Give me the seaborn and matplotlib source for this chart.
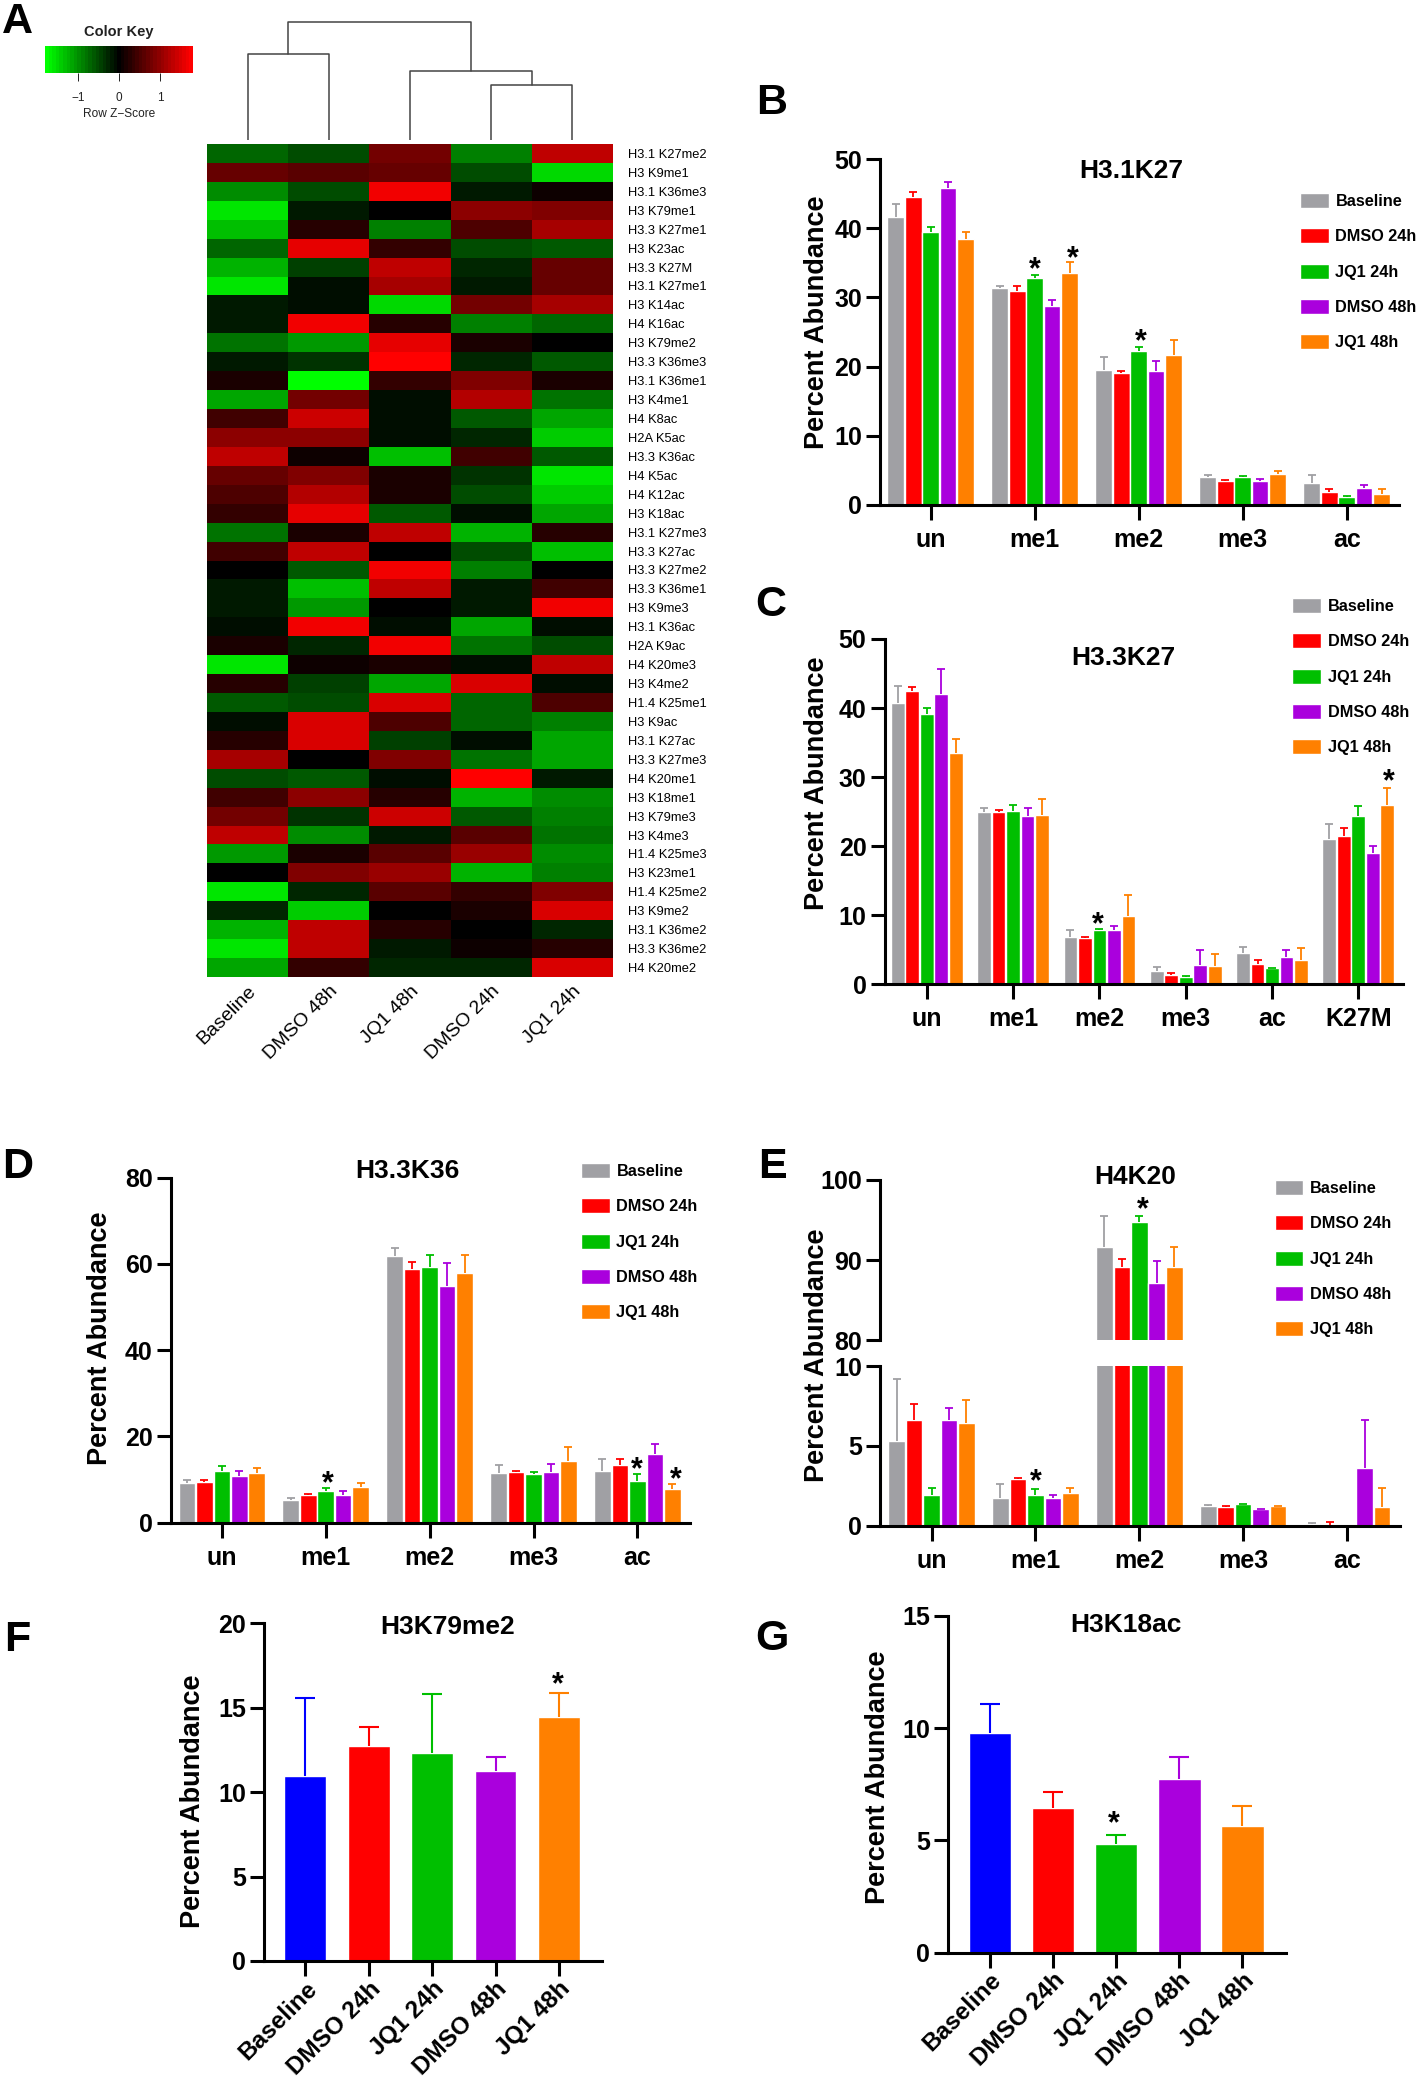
import numpy as np
import pandas as pd
import seaborn as sns
import matplotlib.pyplot as plt
from matplotlib.colors import LinearSegmentedColormap

W, H = 1418, 2076

groups = ["Baseline", "DMSO 24h", "JQ1 24h", "DMSO 48h", "JQ1 48h"]
group_colors = ["#A0A0A4", "#FF0000", "#00BF00", "#AA00DD", "#FF8000"]
single_colors = ["#0000FF", "#FF0000", "#00BF00", "#AA00DD", "#FF8000"]

# panel A
heat_cols = ["Baseline", "DMSO 48h", "JQ1 48h", "DMSO 24h", "JQ1 24h"]
heat_rows = ["H3.1 K27me2", "H3 K9me1", "H3.1 K36me3", "H3 K79me1", "H3.3 K27me1", "H3 K23ac",
             "H3.3 K27M", "H3.1 K27me1", "H3 K14ac", "H4 K16ac", "H3 K79me2", "H3.3 K36me3",
             "H3.1 K36me1", "H3 K4me1", "H4 K8ac", "H2A K5ac", "H3.3 K36ac", "H4 K5ac",
             "H4 K12ac", "H3 K18ac", "H3.1 K27me3", "H3.3 K27ac", "H3.3 K27me2", "H3.3 K36me1",
             "H3 K9me3", "H3.1 K36ac", "H2A K9ac", "H4 K20me3", "H3 K4me2", "H1.4 K25me1",
             "H3 K9ac", "H3.1 K27ac", "H3.3 K27me3", "H4 K20me1", "H3 K18me1", "H3 K79me3",
             "H3 K4me3", "H1.4 K25me3", "H3 K23me1", "H1.4 K25me2", "H3 K9me2", "H3.1 K36me2",
             "H3.3 K36me2", "H4 K20me2"]
heat_values = [
    [-0.68, -0.5, 0.8, -0.9, 1.35], [0.7, 0.65, 0.7, -0.55, -1.5], [-1.0, -0.55, 1.65, -0.15, 0.12],
    [-1.6, -0.2, 0.0, 0.95, 0.9], [-1.3, 0.3, -0.85, 0.55, 1.1], [-0.7, 1.6, 0.35, -0.55, -0.65],
    [-1.25, -0.45, 1.3, -0.25, 0.7], [-1.6, -0.07, 1.15, -0.2, 0.7], [-0.2, -0.12, -1.45, 0.75, 1.15],
    [-0.15, 1.65, 0.22, -0.85, -0.7], [-0.8, -1.05, 1.55, 0.2, 0.0], [-0.2, -0.35, 1.8, -0.22, -0.6],
    [0.15, -1.8, 0.35, 0.85, 0.18], [-1.15, 0.8, -0.07, 1.2, -0.8], [0.4, 1.4, -0.05, -0.6, -1.15],
    [0.95, 0.95, -0.1, -0.3, -1.4], [1.35, 0.1, -1.3, 0.45, -0.6], [0.7, 0.9, 0.15, -0.35, -1.6],
    [0.5, 1.2, 0.2, -0.5, -1.4], [0.35, 1.55, -0.6, -0.1, -1.1], [-0.8, 0.2, 1.35, -1.25, 0.25],
    [0.4, 1.3, 0.03, -0.55, -1.3], [-0.03, -0.65, 1.7, -0.85, 0.0], [-0.15, -1.3, 1.35, -0.2, 0.4],
    [-0.15, -1.05, 0.0, -0.2, 1.7], [-0.08, 1.65, -0.1, -1.15, -0.12], [0.2, -0.22, 1.65, -0.8, -0.55],
    [-1.6, 0.12, 0.15, -0.1, 1.3], [0.25, -0.45, -1.15, 1.5, -0.1], [-0.65, -0.5, 1.45, -0.7, 0.55],
    [-0.12, 1.45, 0.55, -0.7, -0.9], [0.25, 1.5, -0.45, -0.08, -1.15], [1.1, -0.04, 0.85, -0.75, -1.1],
    [-0.55, -0.6, -0.07, 1.8, -0.17], [0.45, 1.0, 0.3, -1.2, -0.95], [0.75, -0.35, 1.4, -0.65, -0.85],
    [1.35, -0.95, -0.2, 0.65, -0.75], [-1.05, 0.2, 0.65, 1.05, -0.95], [0.0, 0.9, 1.05, -1.2, -0.9],
    [-1.6, -0.3, 0.65, 0.35, 0.85], [-0.25, -1.4, 0.03, 0.2, 1.45], [-1.25, 1.35, 0.3, -0.04, -0.3],
    [-1.6, 1.35, -0.15, 0.1, 0.25], [-1.1, 0.35, -0.25, -0.22, 1.5]]
# dendrogram merges: left node, right node, height (leaves are 0-4, new nodes count up from 5)
dendro_merges = [(0, 1, 86.8), (3, 4, 55.4), (2, 6, 69.0), (5, 7, 118.6)]

# panel B, one row per mark, whisker tops next to means
b_marks = ["un", "me1", "me2", "me3", "ac"]
b_means = [[41.7, 44.5, 39.5, 45.9, 38.5], [31.4, 31.0, 32.8, 28.7, 33.5], [19.5, 19.0, 22.3, 19.3, 21.7],
           [4.0, 3.4, 4.0, 3.5, 4.4], [3.2, 1.9, 1.06, 2.4, 1.6]]
b_tops = [[43.6, 45.3, 40.2, 46.7, 39.5], [31.6, 31.7, 33.2, 29.7, 35.1], [21.4, 19.3, 22.9, 20.8, 23.9],
          [4.3, 3.6, 4.2, 3.7, 4.9], [4.3, 2.3, 1.2, 2.85, 2.3]]
b_star_x = [1.0, 1.365, 2.02]
b_star_y = [34.8, 36.4, 24.4]

# panel C
c_marks = ["un", "me1", "me2", "me3", "ac", "K27M"]
c_means = [[40.8, 42.4, 39.1, 42.1, 33.5], [24.9, 25.0, 25.1, 24.3, 24.5], [6.9, 6.7, 7.9, 7.8, 9.85],
           [1.9, 1.3, 1.1, 2.8, 2.6], [4.5, 2.9, 2.4, 3.9, 3.5], [21.0, 21.5, 24.4, 19.0, 26.0]]
c_tops = [[43.2, 43.0, 40.0, 45.7, 35.5], [25.6, 25.3, 26.0, 25.5, 26.9], [7.8, 6.8, 8.0, 8.5, 13.0],
          [2.56, 1.6, 1.25, 5.0, 4.4], [5.4, 3.5, 2.4, 4.9, 5.3], [23.2, 22.7, 25.8, 20.0, 28.4]]
c_star_x = [1.98, 5.35]
c_star_y = [9.4, 30.2]

# panel D
d_marks = ["un", "me1", "me2", "me3", "ac"]
d_means = [[9.1, 9.5, 12.1, 10.8, 11.5], [5.3, 6.4, 7.4, 6.5, 8.2], [61.9, 58.9, 59.4, 54.8, 57.8],
           [11.5, 11.7, 11.2, 11.7, 14.4], [12.1, 13.4, 9.7, 15.9, 7.9]]
d_tops = [[9.8, 9.9, 13.1, 12.1, 12.8], [5.8, 6.7, 8.0, 7.3, 9.2], [63.8, 60.4, 62.1, 60.3, 62.0],
          [13.4, 12.0, 11.7, 13.7, 17.5], [14.8, 14.7, 11.4, 18.2, 8.9]]
d_star_x = [1.018, 3.99, 4.37]
d_star_y = [10.3, 13.5, 11.3]

# panel E, broken axis
e_marks = ["un", "me1", "me2", "me3", "ac"]
e_means = [[5.28, 6.6, 1.9, 6.6, 6.4], [1.75, 2.95, 1.94, 1.75, 2.04], [91.7, 89.2, 94.8, 87.1, 89.2],
           [1.23, 1.19, 1.36, 1.04, 1.23], [0.1, 0.06, 0.0, 3.6, 1.18]]
e_tops = [[9.16, 7.6, 2.38, 7.4, 7.9], [2.63, 2.99, 2.32, 1.94, 2.36], [95.5, 90.2, 95.55, 89.85, 91.6],
          [1.32, 1.25, 1.38, 1.06, 1.25], [0.19, 0.25, 0.0, 6.62, 2.36]]

# panels F and G
f_means = [10.98, 12.76, 12.3, 11.25, 14.45]
f_tops = [15.6, 13.86, 15.8, 12.1, 15.85]
g_means = [9.77, 6.43, 4.84, 7.74, 5.66]
g_tops = [11.08, 7.14, 5.25, 8.72, 6.51]

sns.set_theme(style="white")
plt.rcParams["font.family"] = ["Liberation Sans", "DejaVu Sans"]
plt.rcParams["text.color"] = "black"

fig = plt.figure(figsize=(W / 100, H / 100), dpi=100, facecolor="white")
AXIS_LW = 2.2


def place(left, top, right, bottom):
    return fig.add_axes([left / W, 1 - bottom / H, (right - left) / W, (bottom - top) / H])


def put_text(x, y, s, **kw):
    kw.setdefault("ha", "center")
    kw.setdefault("va", "center")
    fig.text(x / W, 1 - y / H, s, **kw)


def style_axis(ax, yticks, ylim):
    sns.despine(ax=ax)
    ax.spines["left"].set_linewidth(AXIS_LW)
    ax.spines["bottom"].set_linewidth(AXIS_LW)
    ax.spines["left"].set_color("black")
    ax.spines["bottom"].set_color("black")
    ax.set_ylim(*ylim)
    ax.set_yticks(yticks)
    ax.tick_params(axis="y", left=True, length=10, width=AXIS_LW, labelsize=18, pad=3, labelcolor="black", color="black")
    ax.tick_params(axis="x", bottom=True, length=10.5, width=AXIS_LW, labelsize=18, pad=6, labelcolor="black", color="black")
    for lab in ax.get_yticklabels() + ax.get_xticklabels():
        lab.set_fontweight("bold")


def ylabel(ax, x, y):
    ax.set_ylabel("Percent Abundance", fontsize=19.5, fontweight="bold", color="black", va="center")
    ax.yaxis.set_label_coords((x + 2) / W, 1 - y / H, transform=fig.transFigure)


def upper_whisker(ax, x, mean, up, col, lw, cap):
    # whisker only goes up, so the lower cap is hidden
    _, caps, _ = ax.errorbar(x, mean, yerr=[np.zeros(np.size(x)), up], fmt="none", ecolor=col,
                             elinewidth=lw, capsize=cap, capthick=lw)
    caps[0].set_visible(False)


def grouped_bars(ax, marks, means, tops, x0, unit, left, right):
    df = pd.DataFrame({
        "mark": np.repeat(marks, len(groups)),
        "group": groups * len(marks),
        "pct": np.ravel(means),
    })
    sns.barplot(data=df, x="mark", y="pct", hue="group", hue_order=groups, order=marks, palette=group_colors,
                width=0.84, gap=0.05, saturation=1, errorbar=None, ax=ax)
    ax.set_xlim((left - x0) / unit, (right - x0) / unit)
    top_arr = np.array(tops)
    mean_arr = np.array(means)
    for g, cont in enumerate(list(ax.containers)):
        xs = [p.get_x() + p.get_width() / 2 for p in cont]
        upper_whisker(ax, xs, mean_arr[:, g], top_arr[:, g] - mean_arr[:, g], group_colors[g], 1.3, 3.2)
    ax.set_xlabel("")


def add_legend(ax, x, y):
    handles, labels = ax.get_legend_handles_labels()
    ax.legend(handles, labels, loc="upper left", bbox_to_anchor=(x / W, 1 - y / H), bbox_transform=fig.transFigure,
              frameon=False, prop={"weight": "bold", "size": 11.7}, handlelength=1.76, handleheight=1.05,
              labelspacing=1.18, handletextpad=0.42, borderpad=0, borderaxespad=0)


def stars(ax, xs, ys):
    for x, y in zip(xs, ys):
        ax.annotate("*", (x, y), xytext=(0, -4.5), textcoords="offset points", ha="center", va="center",
                    fontsize=22, fontweight="bold", color="black", annotation_clip=False)


def single_bars(ax, means, tops, x0, unit, left, right, width):
    sns.barplot(x=groups, y=means, hue=groups, palette=single_colors, width=width, saturation=1,
                legend=False, dodge=False, ax=ax)
    ax.set_xlim((left - x0) / unit, (right - x0) / unit)
    for i, col in enumerate(single_colors):
        upper_whisker(ax, [i], [means[i]], [tops[i] - means[i]], col, 1.5, 7.4)


def rotated_labels(ax):
    ax.set_xticks(range(5))
    ax.set_xticklabels(groups, rotation=45, ha="right", rotation_mode="anchor", fontsize=17.5, fontweight="bold")
    ax.tick_params(axis="x", pad=1)


# Panel A heatmap, key and dendrogram
green_red = LinearSegmentedColormap.from_list("green_red", ["#00FF00", "#000000", "#FF0000"], N=41)
heat_ax = place(207, 144, 613, 977)
key_ax = place(45, 45.7, 193, 72.9)
sns.heatmap(pd.DataFrame(heat_values, index=heat_rows, columns=heat_cols), cmap=green_red, vmin=-1.8, vmax=1.8,
            ax=heat_ax, cbar_ax=key_ax, cbar_kws={"orientation": "horizontal", "ticks": [-1, 0, 1]})
heat_ax.yaxis.tick_right()
heat_ax.set_yticklabels(heat_rows, rotation=0, fontsize=9.3, color="black", va="center_baseline")
heat_ax.set_xticklabels(heat_cols, rotation=45, ha="right", rotation_mode="anchor", fontsize=14, color="black")
heat_ax.tick_params(axis="y", length=0, pad=11)
heat_ax.tick_params(axis="x", length=0, pad=4)
key_ax.tick_params(axis="x", bottom=True, length=6, width=0.7, labelsize=8.5, pad=8, color="#222222", labelcolor="#222222")
put_text(119, 32, "Color Key", fontsize=10.5, fontweight="bold", color="#222222")
put_text(119, 113.6, "Row Z\u2212Score", fontsize=8.6, color="#222222")

tree_ax = place(207, 21, 613, 140.4)
tree_ax.set_xlim(0, 5)
tree_ax.set_ylim(0, 119.4)
tree_ax.axis("off")
node_x = [i + 0.5 for i in range(5)]
node_h = [0.0] * 5
for a, b, h in dendro_merges:
    tree_ax.plot([node_x[a], node_x[a], node_x[b], node_x[b]], [node_h[a], h, h, node_h[b]], color="#444444", lw=1.1)
    node_x.append((node_x[a] + node_x[b]) / 2)
    node_h.append(h)

# Panel B
ax_b = place(880, 159.3, 1398.5, 504.7)
grouped_bars(ax_b, b_marks, b_means, b_tops, 930.7, 104.0, 880, 1398.5)
style_axis(ax_b, [0, 10, 20, 30, 40, 50], (0, 50))
ylabel(ax_b, 815, 322.5)
add_legend(ax_b, 1300, 193)
stars(ax_b, b_star_x, b_star_y)
put_text(1131, 170.5, "H3.1K27", fontsize=19, fontweight="bold")

# Panel C
ax_c = place(884.6, 639, 1403, 984.3)
grouped_bars(ax_c, c_marks, c_means, c_tops, 926.8, 86.3, 884.6, 1403)
style_axis(ax_c, [0, 10, 20, 30, 40, 50], (0, 50))
ylabel(ax_c, 815, 783)
add_legend(ax_c, 1292.4, 598)
stars(ax_c, c_star_x, c_star_y)
put_text(1123, 658, "H3.3K27", fontsize=19, fontweight="bold")

# Panel D
ax_d = place(170.8, 1177.7, 690, 1522.7)
grouped_bars(ax_d, d_marks, d_means, d_tops, 221.8, 103.9, 170.8, 690)
style_axis(ax_d, [0, 20, 40, 60, 80], (0, 80))
ylabel(ax_d, 98, 1338)
add_legend(ax_d, 581, 1163)
stars(ax_d, d_star_x, d_star_y)
put_text(407, 1171, "H3.3K36", fontsize=19, fontweight="bold")

# Panel E, same bars on an upper and a lower axis
ax_e_top = place(880, 1180, 1399.8, 1340.3)
ax_e_low = place(880, 1366, 1399.8, 1525.7)
grouped_bars(ax_e_top, e_marks, e_means, e_tops, 931.5, 103.9, 880, 1399.8)
grouped_bars(ax_e_low, e_marks, e_means, e_tops, 931.5, 103.9, 880, 1399.8)
style_axis(ax_e_top, [80, 90, 100], (80, 100))
style_axis(ax_e_low, [0, 5, 10], (0, 10))
ax_e_top.spines["bottom"].set_visible(False)
ax_e_top.tick_params(axis="x", bottom=False, labelbottom=False)
ax_e_top.set_ylabel("")
ax_e_top.get_legend().remove()
ylabel(ax_e_low, 815, 1355)
add_legend(ax_e_low, 1274.5, 1180)
stars(ax_e_low, [1.0], [3.1])
stars(ax_e_top, [2.03], [97.0])
put_text(1135, 1177, "H4K20", fontsize=19, fontweight="bold")

# Panel F
ax_f = place(264, 1623.3, 602, 1961)
single_bars(ax_f, f_means, f_tops, 305.3, 63.4, 264, 602, 0.66)
style_axis(ax_f, [0, 5, 10, 15, 20], (0, 20))
rotated_labels(ax_f)
ylabel(ax_f, 190.5, 1801)
stars(ax_f, [3.99], [16.7])
put_text(448, 1627.5, "H3K79me2", fontsize=19, fontweight="bold")

# Panel G
ax_g = place(948, 1615.7, 1286, 1952.7)
single_bars(ax_g, g_means, g_tops, 990, 63.1, 948, 1286, 0.675)
style_axis(ax_g, [0, 5, 10, 15], (0, 15))
rotated_labels(ax_g)
ylabel(ax_g, 876, 1777)
stars(ax_g, [1.97], [5.98])
put_text(1126, 1624.5, "H3K18ac", fontsize=19, fontweight="bold")

# panel letters
for letter, x, y in [("A", 17, 22), ("B", 772, 103), ("C", 771, 605), ("D", 17.4, 1167),
                     ("E", 772, 1167), ("F", 17.4, 1640), ("G", 772, 1639)]:
    put_text(x, y, letter, fontsize=31, fontweight="bold")

fig.savefig("out.png", dpi=100)
